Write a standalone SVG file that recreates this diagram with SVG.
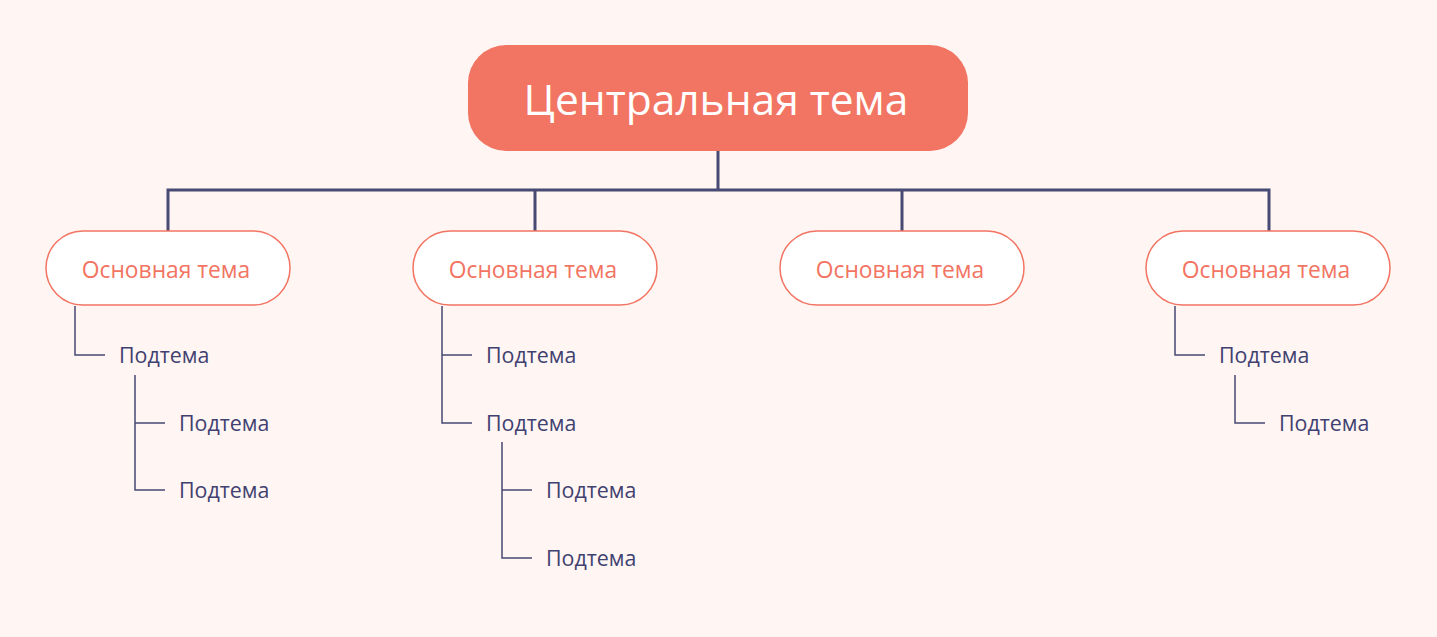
<svg xmlns="http://www.w3.org/2000/svg" width="1437" height="637" viewBox="0 0 1437 637">
<style>
.bg{fill:#FFF5F3}
.central rect{fill:#F27462}
.central text{fill:#FFFFFF;font-family:"Open Sans","Liberation Sans",sans-serif;font-size:42.5px;text-anchor:middle}
.main rect{fill:#FFFFFF;stroke:#F27462;stroke-width:1.5}
.main text{fill:#F27462;font-family:"Open Sans","Liberation Sans",sans-serif;font-size:22.8px;text-anchor:middle}
.sub text{fill:#3F4170;font-family:"Open Sans","Liberation Sans",sans-serif;font-size:21.4px}
.c1{fill:none;stroke:#474A73;stroke-width:3}
.c2{fill:none;stroke:#474A73;stroke-width:1.5}
</style>
<rect class="bg" x="0" y="0" width="1437" height="637"/>
<g id="connectors">
<path class="c1" d="M718 151V190M168 231V190H1269V231M535 190V231M902 190V231"/>
<path class="c2" d="M75 306V355H105M135 375V490H165M135 423H165"/>
<path class="c2" d="M442 306V423H472M442 355H472M502 442V558H532M502 490H532"/>
<path class="c2" d="M1175 306V355H1205M1235 375V423H1265"/>
</g>
<g id="central" class="central"><rect x="468" y="45" width="500" height="106" rx="38"/><text x="716" y="115">Центральная тема</text></g>
<g id="main1" class="main"><rect x="46" y="231" width="244" height="74" rx="37"/><text x="166" y="278">Основная тема</text></g>
<g id="main2" class="main"><rect x="413" y="231" width="244" height="74" rx="37"/><text x="533" y="278">Основная тема</text></g>
<g id="main3" class="main"><rect x="780" y="231" width="244" height="74" rx="37"/><text x="900" y="278">Основная тема</text></g>
<g id="main4" class="main"><rect x="1146" y="231" width="244" height="74" rx="37"/><text x="1266" y="278">Основная тема</text></g>
<g id="sub1" class="sub"><text x="119" y="363">Подтема</text></g>
<g id="sub1a" class="sub"><text x="179" y="431">Подтема</text></g>
<g id="sub1b" class="sub"><text x="179" y="498">Подтема</text></g>
<g id="sub2" class="sub"><text x="486" y="363">Подтема</text></g>
<g id="sub3" class="sub"><text x="486" y="431">Подтема</text></g>
<g id="sub3a" class="sub"><text x="546" y="498">Подтема</text></g>
<g id="sub3b" class="sub"><text x="546" y="566">Подтема</text></g>
<g id="sub4" class="sub"><text x="1219" y="363">Подтема</text></g>
<g id="sub4a" class="sub"><text x="1279" y="431">Подтема</text></g>
</svg>
